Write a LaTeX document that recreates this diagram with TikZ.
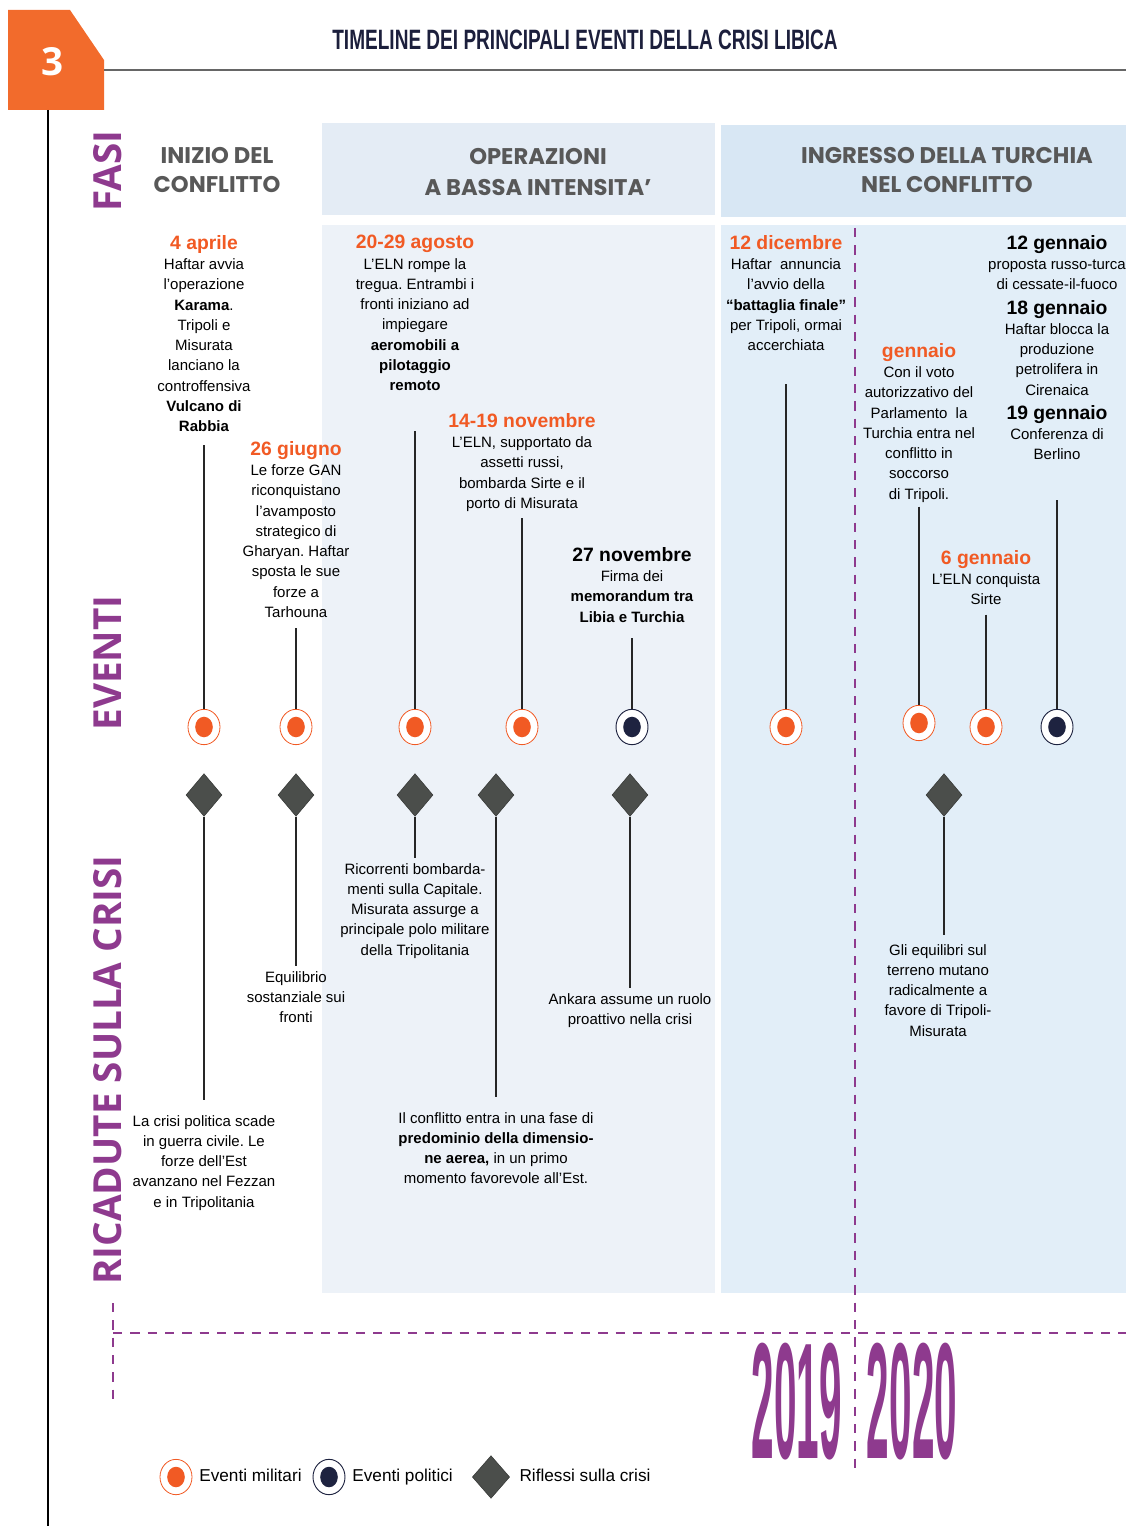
\documentclass[tikz,border=0pt]{standalone}
\usepackage{fontspec}
\setmainfont{Liberation Sans}
\newfontfamily\titlefont[FakeStretch=0.68]{Liberation Sans}
\newfontfamily\yearfont[FakeStretch=0.245]{Liberation Sans}
\newfontfamily\phasefont{Poppins}
\newfontfamily\sidefont{Open Sans}
\usetikzlibrary{positioning,shapes.geometric}
\frenchspacing

\definecolor{taborange}{HTML}{F26B2C}
\definecolor{evorange}{HTML}{F15A24}
\definecolor{evnavy}{HTML}{1E2340}
\definecolor{titlenavy}{HTML}{1C1F3C}
\definecolor{fasepurple}{HTML}{8E3A8E}
\definecolor{diamgray}{HTML}{4B4E4B}
\definecolor{bandlight}{HTML}{EDF2F8}
\definecolor{bandlighthead}{HTML}{E4ECF5}
\definecolor{bandblue}{HTML}{E2EEF8}
\definecolor{bandbluehead}{HTML}{D8E7F4}
\definecolor{phasegray}{HTML}{585858}

\newcommand\datehead[1]{{\fontsize{14.5}{15.2}\selectfont\bfseries\color{evorange}#1}}
\newcommand\dateblack[1]{{\fontsize{14.5}{15.2}\selectfont\bfseries #1}}

\tikzset{
  evtext/.style={align=center, inner sep=0pt, anchor=north,
    font=\fontsize{11.25}{15.2}\selectfont},
  military/.style={ellipse, draw=evorange, line width=0.6pt, fill=white,
    minimum width=24pt, minimum height=26.5pt, inner sep=0pt,
    path picture={\fill[evorange] (path picture bounding box.center)
      ellipse[x radius=6.6pt, y radius=7.7pt];}},
  political/.style={ellipse, draw=evnavy, line width=0.7pt, fill=white,
    minimum width=24pt, minimum height=26.5pt, inner sep=0pt,
    path picture={\fill[evnavy] (path picture bounding box.center)
      ellipse[x radius=6.6pt, y radius=7.7pt];}},
  riflesso/.style={diamond, fill=diamgray, draw=diamgray!70!black,
    line width=0.4pt, minimum width=27pt, minimum height=32pt, inner sep=0pt},
  stem/.style={line width=0.9pt, black!85},
  phase/.style={font=\phasefont\bfseries\fontsize{17}{21.75}\selectfont,
    text=phasegray, align=center},
  side/.style={font=\sidefont\bfseries\fontsize{29}{30}\selectfont,
    text=fasepurple, rotate=90, anchor=base, inner sep=0pt},
  yeardash/.style={fasepurple, line width=1.4pt, dash pattern=on 7pt off 6pt},
  legend/.style={font=\fontsize{12.9}{15}\selectfont, inner sep=0pt,
    text height=9.3pt, text depth=2.7pt},
}

\begin{document}
\begin{tikzpicture}[x=0.75pt,y=-0.75pt]
  \useasboundingbox (0,0) rectangle (1126,1526);
  % fondi delle fasi
  \fill[bandlighthead] (322,123) rectangle (715,215);
  \fill[bandlight] (322,225) rectangle (715,1293);
  \fill[bandbluehead] (721,125) rectangle (1126,217);
  \fill[bandblue] (721,225) rectangle (1126,1293);

  % testata
  \fill[taborange] (8,10) -- (70,10) -- (104,60) -- (104,110) -- (8,110) -- cycle;
  \node[text=white, font=\sidefont\bfseries\fontsize{29}{30}\selectfont] (num) at (53,62) {3};
  \node[font=\titlefont\bfseries\fontsize{21}{24}\selectfont, text=titlenavy] (title) at (585,40)
    {TIMELINE DEI PRINCIPALI EVENTI DELLA CRISI LIBICA};
  \draw[line width=1.3pt, black!60] (104,70) -- (1126,70);
  \draw[line width=1pt] (48,110) -- (48,1526);

  % fasi
  \node[phase] (f1) at (217,170) {INIZIO DEL\\CONFLITTO};
  \node[phase] (f2) at (538,172) {OPERAZIONI\\[2pt]A BASSA INTENSITA’};
  \node[phase] (f3) at (947,170) {INGRESSO DELLA TURCHIA\\NEL CONFLITTO};
  \node[side] (lfasi) at (121,171) {FASI};
  \node[side] (leventi) at (121,663) {EVENTI};
  \node[side] (lricadute) at (121,1070) {RICADUTE SULLA CRISI};

  % eventi
  \node[evtext] (t1) at (204,235) {\datehead{4 aprile}\\Haftar avvia\\l'operazione\\
    \textbf{Karama}.\\Tripoli e\\Misurata\\lanciano la\\controffensiva\\
    \textbf{Vulcano di}\\\textbf{Rabbia}};
  \node[evtext] (t2) at (296,441) {\datehead{26 giugno}\\Le forze GAN\\riconquistano\\
    l'avamposto\\strategico di\\Gharyan. Haftar\\sposta le sue\\forze a\\Tarhouna};
  \node[evtext] (t3) at (415,235) {\datehead{20-29 agosto}\\L'ELN rompe la\\
    tregua. Entrambi i\\fronti iniziano ad\\impiegare\\\textbf{aeromobili a}\\
    \textbf{pilotaggio}\\\textbf{remoto}};
  \node[evtext] (t4) at (522,413) {\datehead{14-19 novembre}\\L'ELN, supportato da\\
    assetti russi,\\bombarda Sirte e il\\porto di Misurata};
  \node[evtext] (t5) at (632,547) {\dateblack{27 novembre}\\Firma dei\\
    \textbf{memorandum tra}\\\textbf{Libia e Turchia}};
  \node[evtext] (t6) at (786,235) {\datehead{12 dicembre}\\Haftar\ \ annuncia\\
    l'avvio della\\\textbf{“battaglia finale”}\\per Tripoli, ormai\\accerchiata};
  \node[evtext] (t7) at (919,343) {\datehead{gennaio}\\Con il voto\\autorizzativo del\\
    Parlamento\ \ la\\Turchia entra nel\\conflitto in\\soccorso\\di Tripoli.};
  \node[evtext] (t8) at (986,550) {\datehead{6 gennaio}\\L'ELN conquista\\Sirte};
  \node[evtext] (t9) at (1057,235) {\dateblack{12 gennaio}\\proposta russo-turca\\
    di cessate-il-fuoco\\[3pt]\dateblack{18 gennaio}\\Haftar blocca la\\produzione\\
    petrolifera in\\Cirenaica\\[3pt]\dateblack{19 gennaio}\\Conferenza di\\Berlino};

  \node[military] (e1) at (204,727) {};
  \node[military] (e2) at (296,727) {};
  \node[military] (e3) at (415,727) {};
  \node[military] (e4) at (522,727) {};
  \node[political] (e5) at (632,727) {};
  \node[military] (e6) at (786,727) {};
  \node[military] (e7) at (919,723) {};
  \node[military] (e8) at (986,727) {};
  \node[political] (e9) at (1057,727) {};

  \draw[stem, shorten <=10pt] (t1.south -| e1) -- (e1);
  \draw[stem, shorten <=8pt] (t2.south -| e2) -- (e2);
  \draw[stem, shorten <=30pt] (t3.south -| e3) -- (e3);
  \draw[stem, shorten <=5pt] (t4.south -| e4) -- (e4);
  \draw[stem, shorten <=12pt] (t5.south -| e5) -- (e5);
  \draw[stem, shorten <=25pt] (t6.south -| e6) -- (e6);
  \draw[stem, shorten <=3pt] (t7.south -| e7) -- (e7);
  \draw[stem, shorten <=7pt] (t8.south -| e8) -- (e8);
  \draw[stem, shorten <=30pt] (t9.south -| e9) -- (e9);

  % ricadute
  \node[riflesso] (d1) at (204,795) {};
  \node[riflesso] (d2) at (296,795) {};
  \node[riflesso] (d3) at (415,795) {};
  \node[riflesso] (d4) at (496,795) {};
  \node[riflesso] (d5) at (630,795) {};
  \node[riflesso] (d6) at (944,795) {};

  \node[evtext] (r1) at (204,1115) {La crisi politica scade\\in guerra civile. Le\\
    forze dell'Est\\avanzano nel Fezzan\\e in Tripolitania};
  \node[evtext] (r2) at (296,971) {Equilibrio\\sostanziale sui\\fronti};
  \node[evtext] (r3) at (415,863) {Ricorrenti bombarda-\\menti sulla Capitale.\\
    Misurata assurge a\\principale polo militare\\della Tripolitania};
  \node[evtext] (r4) at (496,1112) {Il conflitto entra in una fase di\\
    \textbf{predominio della dimensio-}\\\textbf{ne aerea,} in un primo\\
    momento favorevole all'Est.};
  \node[evtext] (r5) at (630,993) {Ankara assume un ruolo\\proattivo nella crisi};
  \node[evtext] (r6) at (938,944) {Gli equilibri sul\\terreno mutano\\
    radicalmente a\\favore di Tripoli-\\Misurata};

  \draw[stem, shorten >=11pt] (d1) -- (d1 |- r1.north);
  \draw[stem, shorten >=4pt] (d2) -- (d2 |- r2.north);
  \draw[stem, shorten >=4pt] (d3) -- (d3 |- r3.north);
  \draw[stem, shorten >=11pt] (d4) -- (d4 |- r4.north);
  \draw[stem, shorten >=4pt] (d5) -- (d5 |- r5.north);
  \draw[stem, shorten >=7pt] (d6) -- (d6 |- r6.north);

  % anni
  \draw[yeardash] (855,228) -- (855,1470);
  \draw[yeardash] (113,1333) -- (1126,1333);
  \draw[yeardash] (113,1303) -- (113,1403);
  \node[font=\yearfont\bfseries\fontsize{124}{124}\selectfont, text=fasepurple] (y19) at (797,1402) {2019};
  \node[font=\yearfont\bfseries\fontsize{124}{124}\selectfont, text=fasepurple] (y20) at (912,1402) {2020};

  % legenda
  \node[military] (lgm) at (176,1477) {};
  \node[legend, right=5pt of lgm] (lgmt) {Eventi militari};
  \node[political] (lgp) at (329,1477) {};
  \node[legend, right=5pt of lgp] (lgpt) {Eventi politici};
  \node[riflesso, minimum width=28pt, minimum height=32pt] (lgr) at (491,1477) {};
  \node[legend, right=7pt of lgr] (lgrt) {Riflessi sulla crisi};
\end{tikzpicture}
\end{document}
